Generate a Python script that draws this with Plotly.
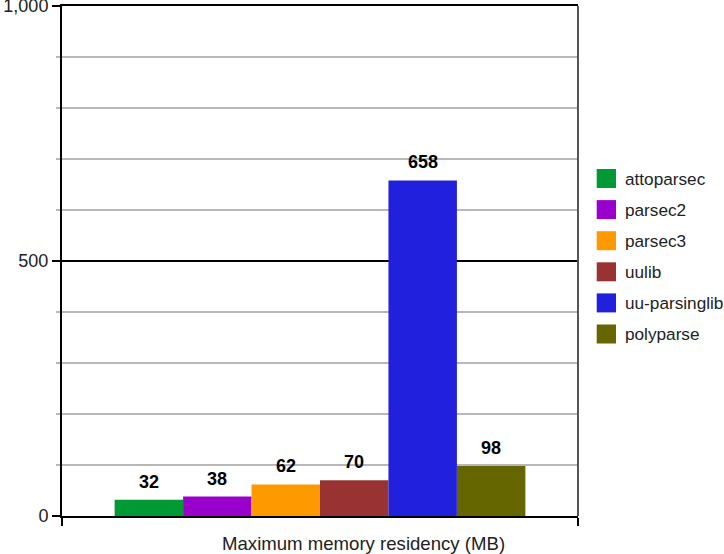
import plotly.graph_objects as go

# Benchmark: maximum memory residency per parser library (MB)
libraries = ["attoparsec", "parsec2", "parsec3", "uulib", "uu-parsinglib", "polyparse"]
residency_mb = [32, 38, 62, 70, 658, 98]
colors = ["#009933", "#9900cc", "#ff9900", "#993333", "#2020dd", "#666600"]
y_tick_values = [0, 500, 1000]
x_title = "Maximum memory residency (MB)"

FONT = "Arial, Liberation Sans, sans-serif"
W, H = 724, 554
ML, MR, MT, MB = 62, 146, 6, 38
PW, PH = W - ML - MR, H - MT - MB
BARGAP = 0.204


def px_x(px):
    """Pixel column -> paper x."""
    return (px - ML) / PW


def px_y(px):
    """Pixel row -> paper y."""
    return (H - MB - px) / PH


fig = go.Figure()
for name, val, col in zip(libraries, residency_mb, colors):
    fig.add_trace(go.Bar(x=[0], y=[val], name=name, marker=dict(color=col, line=dict(width=0)),
                         showlegend=False, hoverinfo="name+y"))

# value labels above each bar, placed at the bar's group offset
n = len(libraries)
slot = (1 - BARGAP) / n
annotations = []
for i, val in enumerate(residency_mb):
    annotations.append(dict(
        x=(i - (n - 1) / 2) * slot, y=val, xref="x", yref="y",
        text=f"<b>{val}</b>", showarrow=False, yanchor="middle", yshift=18,
        font=dict(family=FONT, size=18, color="#000"),
    ))

# axis title under the plot
annotations.append(dict(
    x=px_x(363.4), y=px_y(543), xref="paper", yref="paper", text=x_title,
    showarrow=False, xanchor="center", yanchor="middle",
    font=dict(family=FONT, size=18.6, color="#222"),
))

# legend: coloured squares with names
shapes = []
for i, (name, col) in enumerate(zip(libraries, colors)):
    yc = 178.5 + 31.1 * i
    shapes.append(dict(type="rect", xref="paper", yref="paper",
                       x0=px_x(596.7), x1=px_x(616), y0=px_y(yc + 9.5), y1=px_y(yc - 9.5),
                       fillcolor=col, line=dict(width=0)))
    annotations.append(dict(x=px_x(623), y=px_y(yc), xref="paper", yref="paper", text=name,
                            showarrow=False, xanchor="left", yanchor="middle",
                            font=dict(family=FONT, size=17.2, color="#222")))

# right frame edge
shapes.append(dict(type="line", xref="paper", yref="paper", x0=1, x1=1, y0=0, y1=1,
                   line=dict(color="#555", width=2), layer="above"))

fig.update_layout(
    width=W, height=H,
    margin=dict(l=ML, r=MR, t=MT, b=MB, pad=0, autoexpand=False),
    paper_bgcolor="white", plot_bgcolor="white",
    barmode="group", bargap=BARGAP, bargroupgap=0,
    showlegend=False,
    font=dict(family=FONT, size=18, color="#222"),
    xaxis=dict(
        range=[-0.5, 0.5], tickvals=[-0.5, 0.5], ticktext=["", ""],
        ticks="outside", ticklen=8, tickwidth=2, tickcolor="#000",
        showgrid=False, zeroline=False, automargin=False,
        showline=True, linecolor="#000", linewidth=2, mirror=True,
        fixedrange=True,
    ),
    yaxis=dict(
        range=[0, 1000], tickvals=y_tick_values, tickformat=",d",
        ticklabeloverflow="allow", automargin=False,
        ticks="outside", ticklen=8, tickwidth=1.5, tickcolor="#000",
        showgrid=True, gridcolor="#000", gridwidth=1.5,
        zeroline=False, showline=True, linecolor="#000", linewidth=2,
        tickfont=dict(family=FONT, size=18, color="#222"),
        minor=dict(dtick=100, showgrid=True, gridcolor="#b8b8b8", gridwidth=1.5,
                   ticks="outside", ticklen=4, tickcolor="#b8b8b8", tickwidth=1.5),
        fixedrange=True,
    ),
    annotations=annotations,
    shapes=shapes,
)

fig.write_html("out.html")
